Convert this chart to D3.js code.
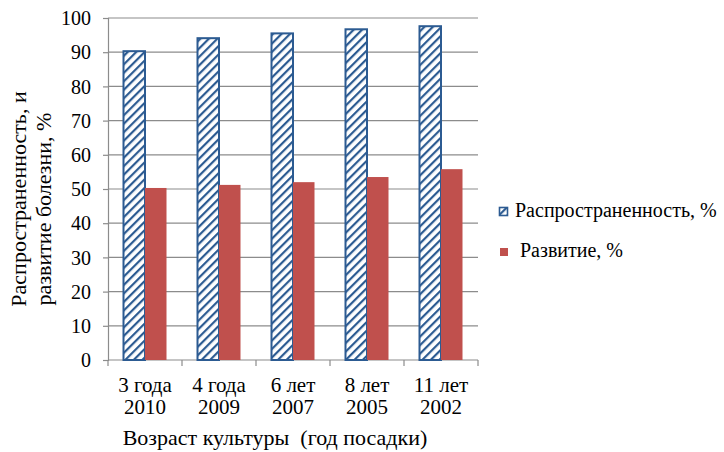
<!DOCTYPE html>
<html><head><meta charset="utf-8">
<script src="https://cdn.jsdelivr.net/npm/d3@7"></script>
<style>body{margin:0;background:#fff}svg{display:block}</style>
</head><body><svg id="c" width="724" height="452"></svg>
<script>
const categoriesLine1 = ["3 года","4 года","6 лет","8 лет","11 лет"];
const categoriesLine2 = ["2010","2009","2007","2005","2002"];
const prevalence = [90.3, 94.1, 95.5, 96.7, 97.6];
const development = [50.3, 51.2, 52.0, 53.5, 55.8];
const yTicks = [0,10,20,30,40,50,60,70,80,90,100];
const seriesNames = ["Распространенность, %","Развитие, %"];

const FONT = "'Liberation Serif'";
const svg = d3.select("#c");
const L = 108, R = 478, T = 18, B = 360;
const x = d3.scaleBand().domain(d3.range(categoriesLine1.length)).range([L, R]).paddingInner(0).paddingOuter(0);
const y = d3.scaleLinear().domain([0,100]).range([B, T]);
const blue = "#2c5b92", red = "#c0504d", grid = "#8c8c8c";

const defs = svg.append("defs");
const pat = defs.append("pattern").attr("id","hatch").attr("patternUnits","userSpaceOnUse")
  .attr("width",6).attr("height",6).attr("patternTransform","rotate(45)");
pat.append("rect").attr("width",6).attr("height",6).attr("fill","#fff");
pat.append("rect").attr("x",0).attr("y",0).attr("width",2.2).attr("height",6).attr("fill",blue);

// gridlines
svg.append("g").selectAll("line").data(yTicks.filter(d=>d>0)).join("line")
  .attr("x1",L).attr("x2",R).attr("y1",d=>y(d)).attr("y2",d=>y(d))
  .attr("stroke",grid).attr("stroke-width",1.2);

// y axis
const ya = svg.append("g").attr("transform",`translate(${L},0)`)
  .call(d3.axisLeft(y).tickValues(yTicks).tickSize(5).tickPadding(12).tickFormat(d3.format("d")));
ya.attr("font-family",null).attr("font-size",null);
ya.select(".domain").attr("stroke",grid).attr("stroke-width",1.2);
ya.selectAll(".tick line").attr("stroke",grid).attr("stroke-width",1.2);
ya.selectAll("text").style("font-size","20px").attr("dy","0.33em");

// x axis
const xa = svg.append("g").attr("transform",`translate(0,${B})`);
xa.append("line").attr("x1",L).attr("x2",R).attr("stroke",grid).attr("stroke-width",1.2);
const bounds = d3.range(categoriesLine1.length+1).map(i => i < categoriesLine1.length ? x(i) : x(i-1)+x.bandwidth());
xa.selectAll(".tk").data(bounds).join("line").attr("class","tk")
  .attr("x1",d=>d).attr("x2",d=>d).attr("y1",0).attr("y2",6).attr("stroke",grid).attr("stroke-width",1.2);
const lbl = xa.selectAll(".lbl").data(categoriesLine1).join("text").attr("class","lbl")
  .attr("text-anchor","middle").style("font-size","21px")
  .attr("x",(d,i)=>x(i)+x.bandwidth()/2);
lbl.append("tspan").attr("x",(d,i)=>x(i)+x.bandwidth()/2).attr("y",32).text(d=>d);
lbl.append("tspan").attr("x",(d,i)=>x(i)+x.bandwidth()/2).attr("y",54).text((d,i)=>categoriesLine2[i]);

// bars
const bw = 21.5;
const g = svg.append("g");
g.selectAll(".p").data(prevalence).join("rect").attr("class","p")
  .attr("x",(d,i)=>x(i)+x.bandwidth()/2-bw).attr("width",bw)
  .attr("y",d=>y(d)).attr("height",d=>B-y(d))
  .attr("fill","url(#hatch)").attr("stroke",blue).attr("stroke-width",2);
g.selectAll(".d").data(development).join("rect").attr("class","d")
  .attr("x",(d,i)=>x(i)+x.bandwidth()/2).attr("width",bw)
  .attr("y",d=>y(d)).attr("height",d=>B-y(d))
  .attr("fill",red);

// axis titles
svg.append("text").attr("x",275).attr("y",445).attr("text-anchor","middle").style("font-size","22px")
  .style("white-space","pre").text("Возраст культуры  (год посадки)");
svg.append("text").attr("transform","translate(26,199) rotate(-90)").attr("text-anchor","middle").style("font-size","22px")
  .text("Распространенность, и");
svg.append("text").attr("transform","translate(51,209) rotate(-90)").attr("text-anchor","middle").style("font-size","22px")
  .text("развитие болезни, %");

// legend
const lg = svg.append("g");
lg.append("rect").attr("x",499.5).attr("y",207.5).attr("width",8).attr("height",8)
  .attr("fill","url(#hatch)").attr("stroke",blue).attr("stroke-width",1.6);
lg.append("text").attr("x",515).attr("y",217).style("font-size","20px").text(seriesNames[0]);
lg.append("rect").attr("x",500).attr("y",248).attr("width",8).attr("height",8).attr("fill",red);
lg.append("text").attr("x",520).attr("y",257).style("font-size","20px").text(seriesNames[1]);

svg.selectAll("text").style("font-family",FONT).style("fill","#000");
</script></body></html>
